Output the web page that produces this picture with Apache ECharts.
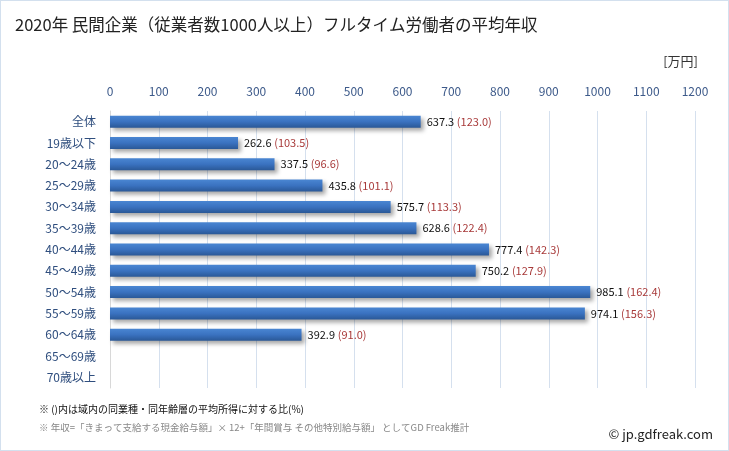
<!DOCTYPE html>
<html><head><meta charset="utf-8">
<script src="https://cdn.jsdelivr.net/npm/echarts@6/dist/echarts.min.js"></script>
<style>
html,body{margin:0;padding:0;background:#fff;}
#c{width:729px;height:451px;box-sizing:border-box;border:1px solid #d3e0ee;}
</style></head>
<body><div id="c"></div>
<script>
const categories = ['全体','19歳以下','20～24歳','25～29歳','30～34歳','35～39歳','40～44歳','45～49歳','50～54歳','55～59歳','60～64歳','65～69歳','70歳以上'];
const values = [637.3, 262.6, 337.5, 435.8, 575.7, 628.6, 777.4, 750.2, 985.1, 974.1, 392.9, null, null];
const ratios = ['123.0','103.5','96.6','101.1','113.3','122.4','142.3','127.9','162.4','156.3','91.0', null, null];
const tickMin = 0, tickMax = 1200, tickStep = 100;

const FF = '"Noto Sans CJK JP", "Noto Sans", sans-serif';
const chart = echarts.init(document.getElementById('c'), null, {renderer:'canvas'});
chart.setOption({
  animation:false,
  textStyle:{fontFamily:FF},
  title:{text:'2020年 民間企業（従業者数1000人以上）フルタイム労働者の平均年収', left:9, top:10,
    textStyle:{fontSize:16.5, fontWeight:'normal', color:'#222', fontFamily:FF}},
  graphic:[
    {type:'text', right:30, top:54, style:{text:'[万円]', fontSize:13, fill:'#333', fontFamily:FF}},
    {type:'text', left:38, top:403, style:{text:'※ ()内は域内の同業種・同年齢層の平均所得に対する比(%)', fontSize:10, fill:'#111', fontFamily:FF}},
    {type:'text', left:38, top:422, style:{text:'※ 年収=「きまって支給する現金給与額」× 12+「年間賞与 その他特別給与額」 としてGD Freak推計', fontSize:9.5, fill:'#888', fontFamily:FF}},
    {type:'text', right:15, top:427, style:{text:'© jp.gdfreak.com', fontSize:13, fill:'#222', fontFamily:FF}}
  ],
  grid:{left:109, right:33, top:110, bottom:62, containLabel:false},
  xAxis:{type:'value', position:'top', min:tickMin, max:tickMax, interval:tickStep,
    axisLine:{show:false}, axisTick:{show:false},
    axisLabel:{color:'#3d5a8a', fontSize:12, margin:14, fontFamily:FF, formatter:v=>String(v)},
    splitLine:{show:true, lineStyle:{color:'#d5e0ee', width:1}}},
  yAxis:{type:'category', inverse:true, data:categories,
    axisLine:{show:true, lineStyle:{color:'#d8d8d8'}}, axisTick:{show:false},
    axisLabel:{color:'#2f4e7e', fontSize:12, margin:14, fontFamily:FF}},
  series:[{
    type:'bar', data:values, barWidth:12,
    itemStyle:{
      color:new echarts.graphic.LinearGradient(0,0,0,1,[
        {offset:0,color:'#4a86d2'},{offset:0.5,color:'#3a72c0'},{offset:1,color:'#2a5897'}]),
      shadowColor:'rgba(0,0,0,0.35)', shadowBlur:4, shadowOffsetX:3, shadowOffsetY:3
    },
    label:{show:true, position:'right', distance:6,
      formatter:p=> p.value==null ? '' : '{v|'+p.value.toFixed(1)+'} {r|('+ratios[p.dataIndex]+')}',
      rich:{v:{color:'#111', fontSize:11, fontFamily:FF}, r:{color:'#a83a3a', fontSize:11, fontFamily:FF}}}
  }]
});
</script></body></html>
